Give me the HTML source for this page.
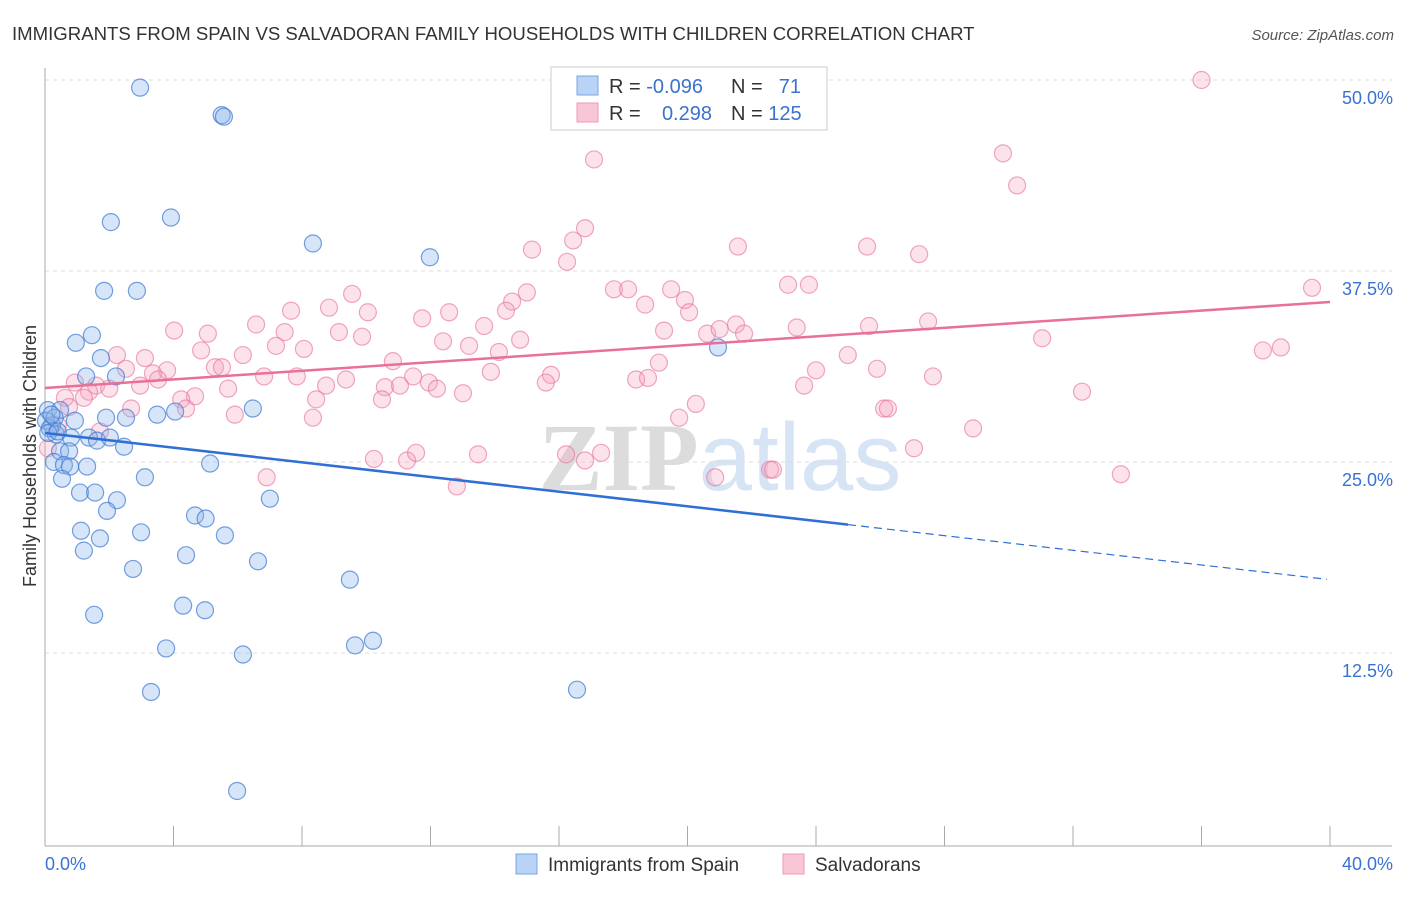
<!DOCTYPE html>
<html><head><meta charset="utf-8"><style>
body{margin:0;background:#fff;font-family:"Liberation Sans",sans-serif;}
svg text{font-family:"Liberation Sans",sans-serif;}
</style></head><body>
<svg width="1406" height="892" viewBox="0 0 1406 892">
<text x="12" y="40" font-size="18.6" fill="#333">IMMIGRANTS FROM SPAIN VS SALVADORAN FAMILY HOUSEHOLDS WITH CHILDREN CORRELATION CHART</text>
<text x="1394" y="40" font-size="15" fill="#555" font-style="italic" text-anchor="end">Source: ZipAtlas.com</text>
<text x="720" y="490" font-size="96" fill="#e6e6e6" text-anchor="middle" font-weight="bold"><tspan fill="#dcdcdc" font-family="Liberation Serif">ZIP</tspan><tspan fill="#d6e4f5" font-weight="normal">atlas</tspan></text>
<g id="grid"></g>
<g id="axes"></g>
<g id="pts"></g>
<g id="trend"></g>
<text x="36" y="456" font-size="18" fill="#333" text-anchor="middle" transform="rotate(-90 36 456)">Family Households with Children</text>
<g>
<rect x="551" y="67" width="276" height="63" fill="#fff" stroke="#ddd" stroke-width="1.5"/>
<rect x="577" y="76" width="21" height="19" fill="#b8d3f5" stroke="#7aa6e0"/>
<rect x="577" y="103" width="21" height="19" fill="#f9c6d6" stroke="#ef9ab5"/>
<text x="609" y="93" font-size="20" fill="#333">R = <tspan fill="#3a72d0">-0.096</tspan></text>
<text x="731" y="93" font-size="20" fill="#333">N = </text><text x="801" y="93" font-size="20" fill="#3a72d0" text-anchor="end">71</text>
<text x="609" y="120" font-size="20" fill="#333">R = </text><text x="712" y="120" font-size="20" fill="#3a72d0" text-anchor="end">0.298</text>
<text x="731" y="120" font-size="20" fill="#333">N = <tspan fill="#3a72d0">125</tspan></text>
</g>
<g>
<rect x="516" y="854" width="21" height="20" fill="#b8d3f5" stroke="#7aa6e0"/>
<text x="548" y="871" font-size="19" fill="#333">Immigrants from Spain</text>
<rect x="783" y="854" width="21" height="20" fill="#f9c6d6" stroke="#ef9ab5"/>
<text x="815" y="871" font-size="19" fill="#333">Salvadorans</text>
</g>
</svg>
<script>
const yTicks=[12.5,25,37.5,50];
const yTickLabels=["12.5%","25.0%","37.5%","50.0%"];
const xTicks=[0,4,8,12,16,20,24,28,32,36,40];
const xEndLabels=["0.0%","40.0%"];
const blueX=[2.96,5.5,5.57,2.05,3.92,8.34,11.98,1.84,2.86,1.46,0.96,1.74,1.28,2.21,20.95,0.09,0.47,1.9,2.52,3.49,4.05,6.47,0.22,0.93,0.34,0.81,1.37,1.62,2.02,2.46,0.47,0.75,0.28,0.59,0.78,1.31,0.53,3.11,5.14,1.09,1.56,2.24,7.0,1.93,4.67,5.0,1.12,2.99,5.6,1.71,1.21,4.39,6.63,2.74,9.49,4.3,4.98,1.53,10.21,9.65,3.77,6.16,3.3,16.56,5.98,0.03,0.15,0.3,0.1,0.2,0.4];
const blueY=[49.5,47.7,47.6,40.7,41.0,39.3,38.4,36.2,36.2,33.3,32.8,31.8,30.6,30.6,32.5,28.4,28.4,27.9,27.9,28.1,28.3,28.5,27.4,27.7,26.8,26.6,26.6,26.4,26.6,26.0,25.7,25.7,25.0,24.8,24.7,24.7,23.9,24.0,24.9,23.0,23.0,22.5,22.6,21.8,21.5,21.3,20.5,20.4,20.2,20.0,19.2,18.9,18.5,18.0,17.3,15.6,15.3,15.0,13.3,13.0,12.8,12.4,9.95,10.1,3.47,27.7,27.2,27.9,26.9,28.1,27.0];
const pinkX=[36.0,17.09,29.82,30.26,16.81,16.44,15.16,16.25,21.57,25.59,27.21,39.44,9.56,15.0,14.54,14.35,17.71,18.15,18.68,19.49,19.92,20.05,23.13,23.78,8.84,7.66,10.05,11.74,12.58,6.57,7.46,4.02,5.07,9.15,9.87,12.39,13.2,13.67,14.79,14.13,19.27,20.61,21.0,21.51,21.76,23.4,25.65,27.49,31.04,37.91,38.47,4.86,6.16,7.19,8.06,2.24,3.11,10.83,5.29,5.51,3.8,2.52,3.36,3.52,6.82,7.84,9.37,11.46,13.88,15.75,15.59,19.11,24.99,24.0,25.9,18.4,18.77,27.64,2.96,0.93,1.59,2.0,1.37,10.58,11.05,11.95,12.2,8.75,5.7,23.63,32.28,0.62,1.21,4.67,4.24,8.44,10.49,13.01,4.39,2.68,0.75,5.91,8.34,20.26,19.74,26.12,26.24,28.89,1.71,0.09,0.4,10.24,11.27,11.55,13.48,16.22,16.81,17.31,27.05,6.9,20.86,22.57,22.66,33.49,12.82];
const pinkY=[50.0,44.8,45.2,43.1,40.3,39.5,38.9,38.1,39.1,39.1,38.6,36.4,36.0,36.1,35.5,34.9,36.3,36.3,35.3,36.3,35.6,34.8,36.6,36.6,35.1,34.9,34.8,34.4,34.8,34.0,33.5,33.6,33.4,33.5,33.2,32.9,32.6,33.9,33.0,32.2,33.6,33.4,33.7,34.0,33.4,33.8,33.9,34.2,33.1,32.3,32.5,32.3,32.0,32.6,32.4,32.0,31.8,31.6,31.2,31.2,31.0,31.1,30.8,30.4,30.6,30.6,30.4,30.6,30.9,30.7,30.2,31.5,32.0,31.0,31.1,30.4,30.5,30.6,30.0,30.2,30.0,29.8,29.6,29.9,30.0,30.2,29.8,30.0,29.8,30.0,29.6,29.2,29.2,29.3,29.1,29.1,29.1,29.5,28.5,28.5,28.6,28.1,27.9,28.8,27.9,28.5,28.5,27.2,27.0,25.9,27.4,25.2,25.1,25.6,25.5,25.5,25.1,25.6,25.9,24.0,24.0,24.5,24.5,24.2,23.4];
const blueTrend=[26.9,-0.24];
const pinkTrend=[29.84,0.1408];
const NS='http://www.w3.org/2000/svg';
const sx=v=>45+v*32.125, sy=v=>844-v*15.28;
function mk(t,a,p){const e=document.createElementNS(NS,t);for(const k in a)e.setAttribute(k,a[k]);p.appendChild(e);return e;}
const grid=document.getElementById('grid'),axes=document.getElementById('axes'),pts=document.getElementById('pts'),trend=document.getElementById('trend');
yTicks.forEach((t,i)=>{
 const l=mk('line',{x1:45,x2:1392,y1:sy(t),y2:sy(t),stroke:'#ddd','stroke-dasharray':'4,4'},grid);
 
 
 const tx=mk('text',{x:1393,y:sy(t)+24,'font-size':18,fill:'#3a72d0','text-anchor':'end'},axes);
 tx.textContent=yTickLabels[i];
 
 
});
mk('line',{x1:45,x2:45,y1:68,y2:846,stroke:'#aaa'},axes);
mk('line',{x1:45,x2:1392,y1:846,y2:846,stroke:'#aaa'},axes);
xTicks.forEach(t=>{const l=mk('line',{x1:sx(t),x2:sx(t),y1:826,y2:846,stroke:'#aaa'},axes);
 
 });
const xl0=mk('text',{x:45,y:870,'font-size':18,fill:'#3a72d0'},axes);xl0.textContent=xEndLabels[0];


const xl1=mk('text',{x:1393,y:870,'font-size':18,fill:'#3a72d0','text-anchor':'end'},axes);xl1.textContent=xEndLabels[1];


pinkX.forEach((x,i)=>{const c=mk('circle',{cx:sx(x),cy:sy(pinkY[i]),r:8.5,fill:'rgba(245,160,190,0.3)',stroke:'rgba(232,120,160,0.65)','stroke-width':1.2},pts);
 
 });
blueX.forEach((x,i)=>{const c=mk('circle',{cx:sx(x),cy:sy(blueY[i]),r:8.5,fill:'rgba(140,180,235,0.35)',stroke:'rgba(60,120,210,0.7)','stroke-width':1.2},pts);
 
 });
const pl=mk('line',{x1:sx(0),y1:sy(pinkTrend[0]),x2:sx(40),y2:sy(pinkTrend[0]+40*pinkTrend[1]),stroke:'#e8709a','stroke-width':2.5},trend);


const bl=mk('line',{x1:sx(0),y1:sy(blueTrend[0]),x2:sx(25),y2:sy(blueTrend[0]+25*blueTrend[1]),stroke:'#2f6fd6','stroke-width':2.5},trend);


const bd=mk('line',{x1:sx(25),y1:sy(blueTrend[0]+25*blueTrend[1]),x2:sx(39.9),y2:sy(blueTrend[0]+39.9*blueTrend[1]),stroke:'#2f6fd6','stroke-width':1.2,'stroke-dasharray':'8,5'},trend);


</script>
</body></html>
